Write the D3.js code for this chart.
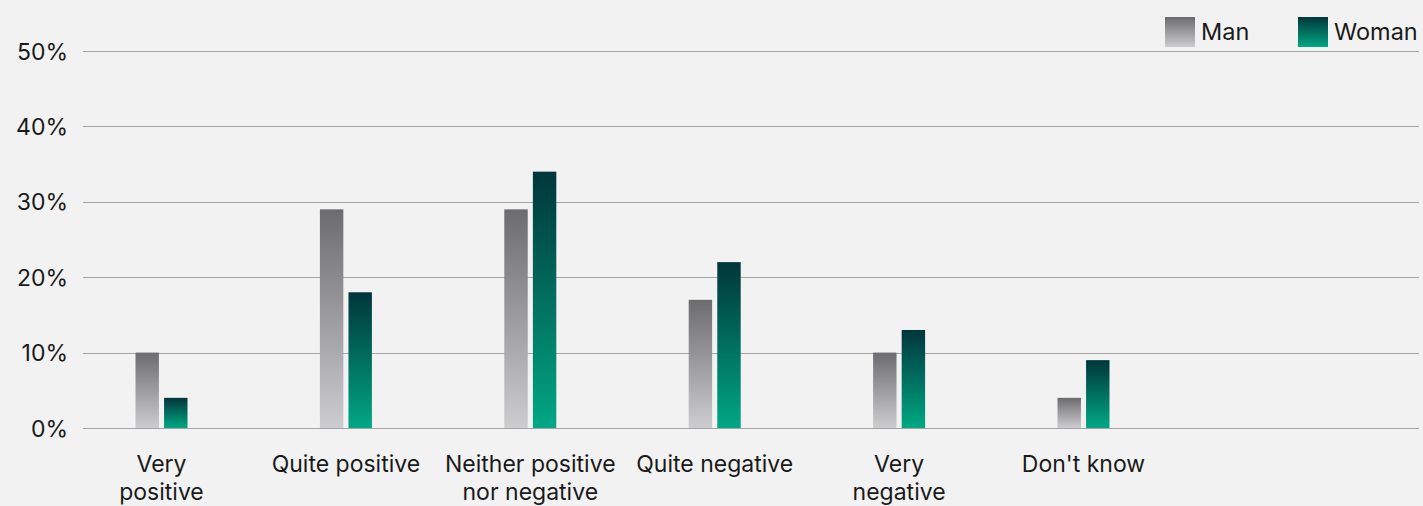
<!DOCTYPE html>
<html><head><meta charset="utf-8">
<script src="https://cdn.jsdelivr.net/npm/d3@7"></script>
<style>
html,body{margin:0;padding:0;background:#f2f2f2;}
svg{display:block;font-family:Inter,"Liberation Sans",Arial,sans-serif;}
</style></head>
<body><svg id="chart" width="1423" height="506"></svg>
<script>
const categories = [["Very","positive"],["Quite positive"],["Neither positive","nor negative"],["Quite negative"],["Very","negative"],["Don't know"]];
const seriesNames = ["Man","Woman"];
const manValues = [10,29,29,17,10,4];
const womanValues = [4,18,34,22,13,9];
const yTicks = [0,10,20,30,40,50];

const svg = d3.select("#chart");
const W = 1423, H = 506;
svg.append("rect").attr("width",W).attr("height",H).attr("fill","#f2f2f2");

const defs = svg.append("defs");
const gradSpecs = [["gMan","#6c6c6e","#cdcdcf"],["gWoman","#00363a","#00a883"]];
gradSpecs.forEach(([id,top,bot])=>{
  const g = defs.append("linearGradient").attr("id",id).attr("x1",0).attr("y1",0).attr("x2",0).attr("y2",1);
  g.append("stop").attr("offset","0%").attr("stop-color",top);
  g.append("stop").attr("offset","100%").attr("stop-color",bot);
});

const y = d3.scaleLinear().domain([0,50]).range([428,51]);
const keys = categories.map((c,i)=>i);
const x = d3.scaleBand().domain(keys).range([69.3, 69.3+6*184.4]).padding(0);
const xs = d3.scaleBand().domain(seriesNames).range([-26,26]).paddingInner(0.18).paddingOuter(0);

const grid = svg.append("g");
grid.selectAll("line").data(yTicks).join("line")
  .attr("x1",83).attr("x2",1419)
  .attr("y1",d=>Math.round(y(d))+0.5).attr("y2",d=>Math.round(y(d))+0.5)
  .attr("stroke","#a3a3a3").attr("stroke-width",1);

const yAxis = d3.axisLeft(y).tickValues(yTicks).tickFormat(d=>d+"%").tickSize(0).tickPadding(0);
const ya = svg.append("g").attr("transform","translate(68,0)").call(yAxis);
ya.select(".domain").remove();
ya.selectAll("text").attr("font-size",23).attr("fill","#1a1a1a").attr("font-family","Inter,'Liberation Sans',Arial,sans-serif").attr("dy","0.35em");

const data = keys.map(i=>({i, vals:[{s:"Man",v:manValues[i]},{s:"Woman",v:womanValues[i]}]}));
const groups = svg.append("g").selectAll("g").data(data).join("g")
  .attr("transform",d=>`translate(${x(d.i)+x.bandwidth()/2},0)`);
groups.selectAll("rect").data(d=>d.vals).join("rect")
  .attr("x",d=>xs(d.s)).attr("width",xs.bandwidth())
  .attr("y",d=>y(d.v)).attr("height",d=>y(0)-y(d.v))
  .attr("fill",d=>d.s==="Man"?"url(#gMan)":"url(#gWoman)");

const xl = svg.append("g").selectAll("text").data(keys).join("text")
  .attr("x",i=>x(i)+x.bandwidth()/2).attr("y",472)
  .attr("text-anchor","middle").attr("font-size",23).attr("fill","#1a1a1a");
xl.selectAll("tspan").data(i=>categories[i].map((t,k)=>({t,k,i}))).join("tspan")
  .attr("x",d=>x(d.i)+x.bandwidth()/2).attr("dy",d=>d.k===0?0:28).text(d=>d.t);

const legendX = [1165,1298];
const lg = svg.append("g").selectAll("g").data(seriesNames).join("g")
  .attr("transform",(d,i)=>`translate(${legendX[i]},17)`);
lg.append("rect").attr("width",30).attr("height",30)
  .attr("fill",d=>d==="Man"?"url(#gMan)":"url(#gWoman)");
lg.append("text").attr("x",36).attr("y",15).attr("dy","0.35em")
  .attr("font-size",23.5).attr("fill","#1a1a1a").text(d=>d);
</script></body></html>
